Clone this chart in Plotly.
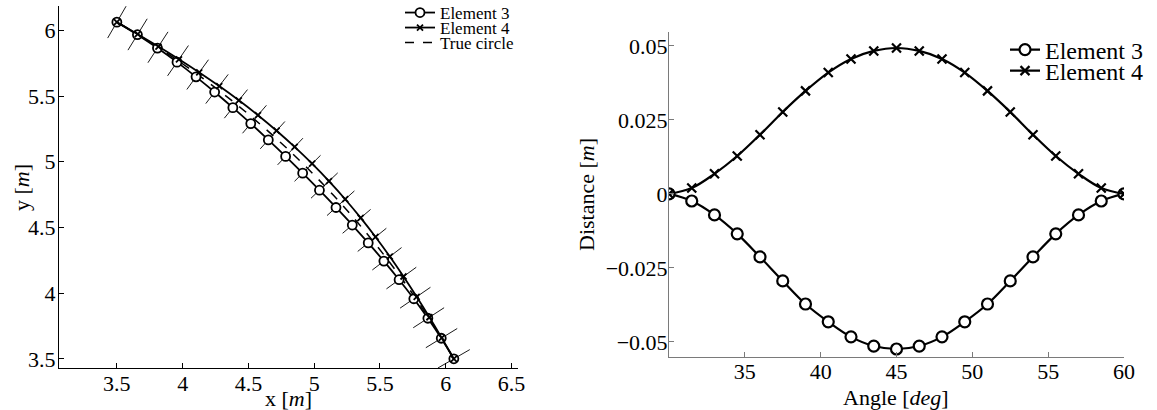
import math
import plotly.graph_objects as go

# ---------------- data ----------------
ANGLES_DEG = [30, 31.5, 33, 34.5, 36, 37.5, 39, 40.5, 42, 43.5, 45,
              46.5, 48, 49.5, 51, 52.5, 54, 55.5, 57, 58.5, 60]
DIST_EL3 = [0, -0.0024, -0.0071, -0.0135, -0.0213, -0.0294, -0.0372, -0.0432,
            -0.0483, -0.0514, -0.0524, -0.0514, -0.0483, -0.0432, -0.0372,
            -0.0294, -0.0213, -0.0135, -0.0071, -0.0024, 0]
DIST_EL4 = [0, 0.0020, 0.0068, 0.0128, 0.0200, 0.0277, 0.0348, 0.0410,
            0.0456, 0.0483, 0.0493, 0.0483, 0.0456, 0.0410, 0.0348,
            0.0277, 0.0200, 0.0128, 0.0068, 0.0020, 0]
TRUE_RADIUS = 7.0
NODE_TICK_HALF = 0.14          # half length of radial node marks [m]

LEFT_XTICKS = [3.5, 4, 4.5, 5, 5.5, 6, 6.5]
LEFT_YTICKS = [3.5, 4, 4.5, 5, 5.5, 6]
RIGHT_XTICKS = [35, 40, 45, 50, 55, 60]
RIGHT_YTICKS = [-0.05, -0.025, 0, 0.025, 0.05]
RIGHT_YTICKTEXT = ["\u22120.05", "\u22120.025", "0", "0.025", "0.05"]

# ---------------- derived coordinates ----------------
def polar(rs, angs):
    xs = [r * math.cos(math.radians(a)) for r, a in zip(rs, angs)]
    ys = [r * math.sin(math.radians(a)) for r, a in zip(rs, angs)]
    return xs, ys

x3, y3 = polar([TRUE_RADIUS + d for d in DIST_EL3], ANGLES_DEG)
x4, y4 = polar([TRUE_RADIUS + d for d in DIST_EL4], ANGLES_DEG)
xc, yc = polar([TRUE_RADIUS] * len(ANGLES_DEG), ANGLES_DEG)

seg_x, seg_y = [], []
for a in ANGLES_DEG:
    xa, ya = polar([TRUE_RADIUS - NODE_TICK_HALF, TRUE_RADIUS + NODE_TICK_HALF], [a, a])
    seg_x += xa + [None]
    seg_y += ya + [None]

W, H = 1157, 410
FONT = '"Liberation Serif", "Times New Roman", serif'

def px_x(p):
    return p / W

def px_y(p):
    return (H - p) / H

fig = go.Figure()

# ---------- left panel ----------
fig.add_trace(go.Scatter(x=seg_x, y=seg_y, mode="lines",
                         line=dict(color="black", width=0.9),
                         showlegend=False, hoverinfo="skip",
                         xaxis="x", yaxis="y"))
fig.add_trace(go.Scatter(x=xc, y=yc, mode="lines", name="True circle",
                         line=dict(color="black", width=1.5, dash="dash", shape="spline"),
                         legend="legend3", xaxis="x", yaxis="y"))
fig.add_trace(go.Scatter(x=x3, y=y3, mode="lines+markers", name="Element 3",
                         line=dict(color="black", width=1.8, shape="spline"),
                         marker=dict(symbol="circle", size=9, color="white",
                                     line=dict(color="black", width=1.8)),
                         legend="legend", xaxis="x", yaxis="y"))
fig.add_trace(go.Scatter(x=x4, y=y4, mode="lines+markers", name="Element 4",
                         line=dict(color="black", width=1.8, shape="spline"),
                         marker=dict(symbol="x-thin-open", size=6, color="black",
                                     line=dict(color="black", width=1.8)),
                         legend="legend2", xaxis="x", yaxis="y"))

# ---------- right panel ----------
fig.add_trace(go.Scatter(x=ANGLES_DEG, y=DIST_EL3, mode="lines+markers", name="Element 3",
                         line=dict(color="black", width=2.2, shape="spline"),
                         marker=dict(symbol="circle", size=11, color="white",
                                     line=dict(color="black", width=2.2)),
                         legend="legend4", xaxis="x2", yaxis="y2"))
fig.add_trace(go.Scatter(x=ANGLES_DEG, y=DIST_EL4, mode="lines+markers", name="Element 4",
                         line=dict(color="black", width=2.2, shape="spline"),
                         marker=dict(symbol="x-thin-open", size=9, color="black",
                                     line=dict(color="black", width=2.2)),
                         legend="legend5", xaxis="x2", yaxis="y2"))

tickfont = dict(family=FONT, size=22, color="black")
common = dict(showgrid=False, zeroline=False, showline=True, ticks="inside",
              ticklen=5, tickwidth=1, mirror=False, tickfont=tickfont,
              automargin=False)

fig.update_layout(
    width=W, height=H,
    margin=dict(l=0, r=0, t=0, b=0, autoexpand=False),
    paper_bgcolor="white", plot_bgcolor="white",
    font=dict(family=FONT, color="black"),
    hovermode=False,
    xaxis=dict(domain=[px_x(59), px_x(518)], range=[3.06, 6.55],
               tickvals=LEFT_XTICKS, linecolor="black", tickcolor="black",
               anchor="y", ticklabelstandoff=-4, **common),
    yaxis=dict(domain=[px_y(368), px_y(6)], range=[3.43, 6.185],
               tickvals=LEFT_YTICKS, linecolor="black", tickcolor="black",
               anchor="x", ticklabelstandoff=-2, **common),
    xaxis2=dict(domain=[px_x(669), px_x(1124)], range=[30, 60],
                tickvals=RIGHT_XTICKS, linecolor="#7a7a7a", tickcolor="#7a7a7a",
                anchor="y2", ticklabelstandoff=-5, **common),
    yaxis2=dict(domain=[px_y(357), px_y(32)], range=[-0.0551, 0.0547],
                tickvals=RIGHT_YTICKS, ticktext=RIGHT_YTICKTEXT,
                linecolor="#7a7a7a", tickcolor="#7a7a7a",
                anchor="x2", ticklabelstandoff=-4, **common),
)

def leg(xp, yp, size):
    return dict(x=px_x(xp), y=px_y(yp), xanchor="left", yanchor="middle",
                bgcolor="rgba(0,0,0,0)", borderwidth=0,
                font=dict(family=FONT, size=size, color="black"),
                itemclick=False, itemdoubleclick=False, tracegroupgap=0)

fig.update_layout(
    legend=leg(400, 13, 17),
    legend2=leg(400, 28, 17),
    legend3=leg(400, 43, 17),
    legend4=leg(1005, 50, 24),
    legend5=leg(1005, 71, 24),
)

titlefont = dict(family=FONT, size=22, color="black")
fig.add_annotation(text="x [<i>m</i>]", x=px_x(288), y=px_y(398), xref="paper", yref="paper",
                   showarrow=False, xanchor="center", yanchor="middle", font=titlefont)
fig.add_annotation(text="y [<i>m</i>]", x=px_x(22), y=px_y(187), xref="paper", yref="paper",
                   showarrow=False, xanchor="center", yanchor="middle", textangle=-90,
                   font=titlefont)
fig.add_annotation(text="Distance [<i>m</i>]", x=px_x(586), y=px_y(195), xref="paper", yref="paper",
                   showarrow=False, xanchor="center", yanchor="middle", textangle=-90,
                   font=titlefont)
fig.add_annotation(text="Angle [<i>deg</i>]", x=px_x(896), y=px_y(397), xref="paper", yref="paper",
                   showarrow=False, xanchor="center", yanchor="middle", font=titlefont)

fig.write_html("out.html", config={"displayModeBar": False},
               post_script="document.body.style.margin='0';document.body.style.padding='0';")
